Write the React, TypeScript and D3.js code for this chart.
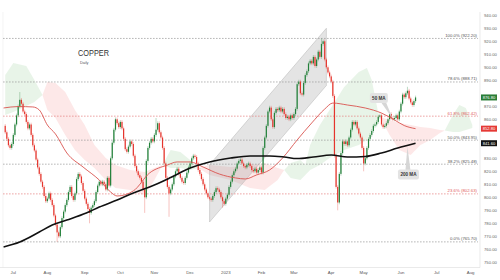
import React from 'react';
import * as d3 from 'd3';

const W = 500;
const H = 280;

// ---- Data ----
const startDate = new Date(2022, 5, 24);
const axisEnd = new Date(2023, 7, 31);

const firstOpen = 855;
const closes = [
  850, 845, 840, 838, 841, 848,
  856, 863, 870, 875, 872, 866,
  864, 858, 853, 856, 848, 840,
  836, 829, 823, 818, 812, 808,
  801, 797, 799, 803, 798, 794,
  786, 779, 773, 770, 777, 784,
  789, 794, 798, 804, 808, 801,
  798, 803, 814, 818, 816, 811,
  805, 799, 795, 791, 788, 792,
  794, 797, 804, 809, 812, 810,
  812, 810, 806, 815, 809, 830,
  842, 852, 860, 857, 854, 858,
  853, 845, 837, 835, 839, 843,
  841, 832, 824, 820, 817, 815,
  812, 806, 800, 828, 838, 842,
  845, 843, 848, 852, 857, 850,
  846, 838, 826, 815, 808, 803,
  806, 810, 816, 820, 822, 818,
  815, 812, 811, 815, 819, 823,
  826, 830, 832, 831, 826, 821,
  818, 814, 810, 806, 803, 800,
  799, 798, 801, 804, 807, 806,
  804, 800, 797, 795, 799, 802,
  808, 812, 817, 820, 822, 826,
  828, 829, 826, 824, 823, 825,
  826, 824, 821, 820, 822, 819,
  821, 823, 819, 838, 846, 855,
  866, 869, 860, 854, 865, 868,
  867, 869, 866, 868, 864, 861,
  862, 860, 863, 861, 864, 868,
  887, 889, 880, 879, 888, 894,
  897, 903, 905, 903, 908, 901,
  906, 912, 908, 918, 920, 906,
  900, 896, 893, 889, 878, 832,
  808, 796, 818, 834, 843, 841,
  843, 840, 846, 852, 858, 856,
  858, 853, 849, 846, 838, 826,
  830, 838, 845, 848, 851, 855,
  856, 858, 862, 863, 856, 854,
  855, 857, 860, 864, 861, 860,
  861, 863, 860, 866, 872, 879,
  877, 880, 882, 876, 873, 871,
  874, 876.8,
];
const wickHighs: [number, number][] = [[9, 881], [93, 861], [195, 922.2], [248, 885]];
const wickLows: [number, number][] = [[32, 765.7], [52, 780], [86, 788], [101, 785], [134, 792], [205, 790], [221, 820]];

// Ichimoku-style cloud: index, span A, span B
const cloudIdx = [0, 5, 13, 18, 23, 26, 31, 37, 43, 49, 55, 62, 68, 77, 86, 92, 97, 102, 108, 114, 119, 126, 139, 151, 160, 168, 172, 176, 182, 185, 188, 194, 200, 209, 218, 223, 226, 230, 231, 237, 243, 250, 256, 262, 268, 271, 276, 280, 284, 288];
const spanA = [894.1, 903.3, 901.0, 890.2, 878.7, 867.2, 861.0, 847.9, 836.4, 828.7, 822.5, 813.3, 807.2, 805.6, 801.8, 813.3, 824.8, 836.4, 834.8, 828.7, 822.5, 817.2, 813.3, 807.2, 805.6, 813.3, 821.0, 826.4, 828.7, 824.8, 840.2, 855.6, 867.2, 884.9, 896.4, 899.5, 890.2, 864.8, 861.8, 847.9, 836.4, 832.5, 840.2, 844.1, 849.5, 851.4, 863.3, 871.0, 868.7, 855.6];
const spanB = [863.3, 865.6, 870.2, 873.3, 878.7, 888.7, 887.9, 881.0, 867.2, 855.6, 840.2, 830.2, 824.8, 821.0, 819.5, 822.5, 824.8, 822.5, 822.5, 821.0, 822.5, 824.8, 823.3, 824.8, 826.4, 822.5, 821.0, 814.8, 813.3, 817.2, 821.0, 824.8, 830.2, 836.4, 840.2, 844.1, 851.8, 861.0, 861.8, 859.5, 857.2, 855.6, 854.1, 853.3, 851.8, 851.4, 850.2, 850.2, 851.8, 853.3];

// Moving averages
const ma200Idx = [-1, 9, 21, 29, 38, 50, 58, 69, 79, 89, 102, 114, 126, 139, 151, 163, 172, 180, 190, 201, 211, 222, 232, 242, 253];
const ma200Val = [761.8, 765.6, 773.3, 778.7, 782.5, 787.9, 792.5, 797.9, 803.3, 807.9, 815.2, 822.5, 827.2, 830.2, 831.8, 831.8, 831.0, 829.8, 831.0, 832.5, 831.0, 831.4, 834.1, 837.9, 841.6];
const ma50Idx = [-1, 8, 17, 21, 26, 31, 38, 48, 58, 65, 69, 79, 89, 100, 106, 114, 122, 132, 142, 148, 155, 163, 171, 180, 189, 197, 202, 211, 222, 232, 240, 246, 253];
const ma50Val = [868.7, 869.8, 869.5, 867.2, 855.6, 848.7, 834.1, 823.3, 813.3, 804.1, 801.0, 804.9, 818.7, 824.8, 827.2, 827.2, 823.3, 817.9, 814.9, 814.1, 817.2, 821.0, 830.2, 844.1, 857.2, 867.9, 872.5, 871.0, 868.7, 864.8, 859.5, 855.2, 852.8];

// Parallel channel
const channelLower: [number, number][] = [[126, 781], [198, 886]];
const channelUpper: [number, number][] = [[126, 825], [198, 930]];

// Fibonacci retracement
const fibLow = 765.7;
const fibHigh = 922.2;
const fibRatios = [1, 0.786, 0.618, 0.5, 0.382, 0.236, 0];
const fibRed = [0.618, 0.236];

const yTicks = d3.range(750, 941, 10);

const UP = '#23803a';
const DOWN = '#e5352d';
const FONT = "'Liberation Sans', Arial, sans-serif";

export default function App() {
  const x = d3.scaleLinear().domain([0, 287]).range([5.2, 470.7]);
  const y = d3.scaleLinear().domain([750, 940]).range([262.3, 15.3]);

  // trading days for the time axis
  const days = d3.timeDay.range(startDate, axisEnd).filter(d => d.getDay() !== 0 && d.getDay() !== 6);
  const monthTicks: { i: number; label: string }[] = [];
  days.forEach((d, i) => {
    if (i === 0) return;
    if (days[i - 1].getMonth() !== d.getMonth()) {
      monthTicks.push({ i, label: d.getMonth() === 0 ? d3.timeFormat('%Y')(d) : d3.timeFormat('%b')(d) });
    }
  });

  const opens = [firstOpen, ...closes.slice(0, -1)];
  const hiMap = new Map(wickHighs);
  const loMap = new Map(wickLows);
  const WICK = 1.4;
  const candles = closes.map((c, i) => {
    const o = opens[i];
    const hi = hiMap.get(i) ?? Math.max(o, c) + WICK;
    const lo = loMap.get(i) ?? Math.min(o, c) - WICK;
    return { i, o, c, hi, lo };
  });

  // cloud groups
  const pts = cloudIdx.map((i, k) => ({ i, a: spanA[k], b: spanB[k] }));
  const groups: { up: boolean; pts: typeof pts }[] = [];
  for (let k = 0; k < pts.length - 1; k++) {
    const p0 = pts[k], p1 = pts[k + 1];
    const up = p0.a + p1.a - p0.b - p1.b >= 0;
    const last = groups[groups.length - 1];
    if (last && last.up === up) last.pts.push(p1);
    else groups.push({ up, pts: [p0, p1] });
  }
  const area = d3.area<{ i: number; a: number; b: number }>()
    .x(d => x(d.i)).y0(d => y(d.b)).y1(d => y(d.a));

  const ma200 = ma200Idx.map((i, k) => [i, ma200Val[k]] as [number, number]);
  const ma50 = ma50Idx.map((i, k) => [i, ma50Val[k]] as [number, number]);
  const line = d3.line<[number, number]>().x(d => x(d[0])).y(d => y(d[1])).curve(d3.curveMonotoneX);

  const channelPath = `M${x(channelLower[0][0])},${y(channelLower[0][1])}L${x(channelLower[1][0])},${y(channelLower[1][1])}L${x(channelUpper[1][0])},${y(channelUpper[1][1])}L${x(channelUpper[0][0])},${y(channelUpper[0][1])}Z`;

  const ma50Interp = d3.scaleLinear().domain(ma50Idx).range(ma50Val);
  const ma200Interp = d3.scaleLinear().domain(ma200Idx).range(ma200Val);
  const a50 = { x: x(239), y: y(ma50Interp(239)) };
  const a200 = { x: x(248), y: y(ma200Interp(248)) };
  const b50 = { cx: a50.x - 14, cy: a50.y - 21 };
  const b200 = { cx: a200.x + 1, cy: a200.y + 29 };

  const plotLeft = 3;
  const plotRight = 480;
  const plotBottom = 267.5;

  const lastClose = closes[closes.length - 1];
  const priceBoxes = [
    { v: lastClose, fill: '#2a7d36' },
    { v: ma50Val[ma50Val.length - 1], fill: '#e53935' },
    { v: ma200Val[ma200Val.length - 1], fill: '#131313' },
  ];
  const visibleTicks = yTicks.filter(v => priceBoxes.every(p => Math.abs(y(v) - y(p.v)) > 5.5));

  return (
    <svg width={W} height={H} style={{ position: 'absolute', left: 0, top: 0, background: '#fff', fontFamily: FONT }}>
      <rect x={0} y={0} width={W} height={H} fill="#fff" />
      {/* frame */}
      <line x1={plotLeft} x2={plotLeft} y1={12} y2={plotBottom} stroke="#ececec" strokeWidth={0.6} />
      <line x1={plotRight} x2={plotRight} y1={12} y2={plotBottom} stroke="#dcdcdc" strokeWidth={0.6} />
      <line x1={0} x2={plotRight} y1={plotBottom} y2={plotBottom} stroke="#dcdcdc" strokeWidth={0.6} />

      {/* cloud */}
      {groups.map((g, k) => (
        <path key={'c' + k} d={area(g.pts) || ''} fill={g.up ? 'rgba(76,170,80,0.13)' : 'rgba(240,90,90,0.14)'} />
      ))}

      {/* channel */}
      <path d={channelPath} fill="rgba(150,150,150,0.26)" stroke="#b5b5b5" strokeWidth={0.5} />

      {/* fib lines */}
      {fibRatios.map(r => {
        const v = fibLow + r * (fibHigh - fibLow);
        const red = fibRed.includes(r);
        return (
          <g key={'f' + r}>
            <line x1={plotLeft} x2={plotRight - 2} y1={y(v)} y2={y(v)} stroke={red ? '#e58080' : '#9a9a9a'} strokeWidth={0.7} strokeDasharray="1.6,1.4" />
            <text x={plotRight - 3} y={y(v) - 1.6} fontSize={4.3} textAnchor="end" fill={red ? '#df5b5b' : '#555'}>
              {`${(r * 100).toFixed(1)}% (${v.toFixed(2)})`}
            </text>
          </g>
        );
      })}

      {/* candles */}
      {candles.map(c => {
        const col = c.c >= c.o ? UP : DOWN;
        const cx = x(c.i);
        const top = y(Math.max(c.o, c.c));
        const h = Math.max(0.8, y(Math.min(c.o, c.c)) - top);
        return (
          <g key={'k' + c.i}>
            <line x1={cx} x2={cx} y1={y(c.hi)} y2={y(c.lo)} stroke={col} strokeOpacity={0.55} strokeWidth={0.55} />
            <rect x={cx - 0.6} y={top} width={1.2} height={h} fill={col} />
          </g>
        );
      })}

      {/* moving averages */}
      <path d={line(ma50) || ''} fill="none" stroke="#d9534f" strokeWidth={0.9} />
      <path d={line(ma200) || ''} fill="none" stroke="#111" strokeWidth={1.6} />

      {/* callouts */}
      <path d={`M${b50.cx + 2},${b50.cy + 4}L${b50.cx + 7},${b50.cy + 4}L${a50.x},${a50.y}Z`} fill="#d6d6d6" />
      <rect x={b50.cx - 9} y={b50.cy - 5} width={18} height={10} rx={2} fill="#e3e3e3" />
      <text x={b50.cx} y={b50.cy + 1.6} fontSize={4.6} fontWeight="bold" textAnchor="middle" fill="#333">50 MA</text>

      <path d={`M${b200.cx - 3},${b200.cy - 4}L${b200.cx + 2},${b200.cy - 4}L${a200.x},${a200.y + 1}Z`} fill="#d6d6d6" />
      <rect x={b200.cx - 10.5} y={b200.cy - 5} width={21} height={10} rx={2} fill="#e3e3e3" />
      <text x={b200.cx} y={b200.cy + 1.6} fontSize={4.6} fontWeight="bold" textAnchor="middle" fill="#333">200 MA</text>

      {/* title */}
      <text x={78} y={55.5} fontSize={9} fill="#333" textLength={31} lengthAdjust="spacingAndGlyphs">COPPER</text>
      <text x={80} y={64} fontSize={3.8} fill="#555">Daily</text>

      {/* right axis */}
      {visibleTicks.map(v => (
        <text key={'y' + v} x={484} y={y(v) + 1.5} fontSize={4.2} fill="#666">{v.toFixed(2)}</text>
      ))}
      {priceBoxes.map((p, k) => (
        <g key={'p' + k}>
          <rect x={481} y={y(p.v) - 3} width={16} height={6} fill={p.fill} />
          <text x={489} y={y(p.v) + 1.5} fontSize={4.1} fill="#fff" textAnchor="middle">{p.v.toFixed(2)}</text>
        </g>
      ))}

      {/* time axis */}
      {monthTicks.filter(t => t.i <= 287).map(t => (
        <text key={'m' + t.i} x={x(t.i)} y={273.5} fontSize={4.3} fill="#555" textAnchor="middle">{t.label}</text>
      ))}
    </svg>
  );
}
